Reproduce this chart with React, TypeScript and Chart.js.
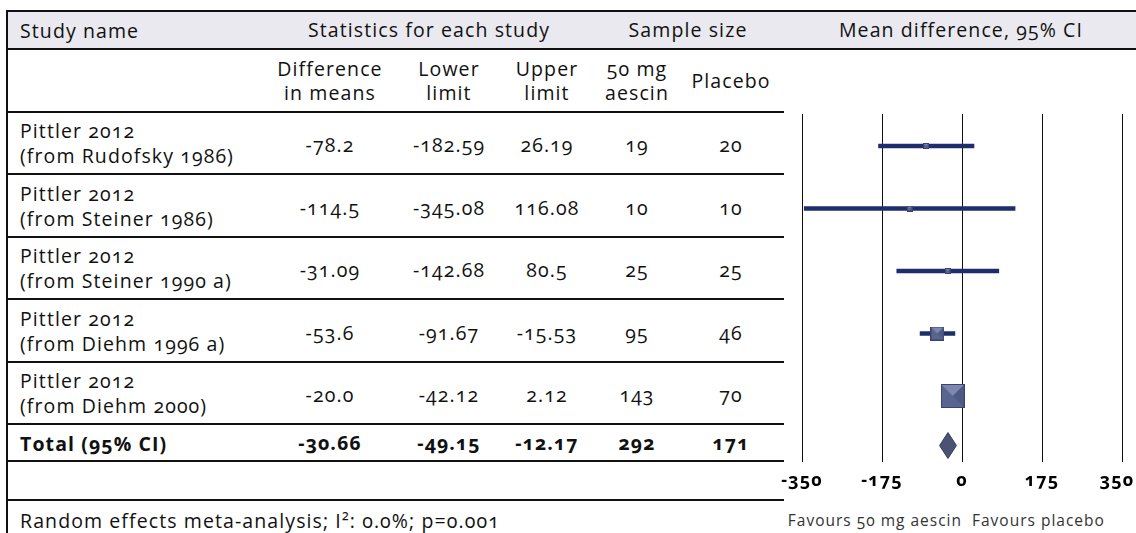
import React, { useEffect, useRef } from "react";
import { Chart, registerables } from "chart.js";

Chart.register(...registerables);

// ---------- data ----------
const studyTitles = ["Pittler 2012", "Pittler 2012", "Pittler 2012", "Pittler 2012", "Pittler 2012"];
const studySources = [
  "(from Rudofsky 1986)",
  "(from Steiner 1986)",
  "(from Steiner 1990 a)",
  "(from Diehm 1996 a)",
  "(from Diehm 2000)",
];
const meanDiff = ["-78.2", "-114.5", "-31.09", "-53.6", "-20.0"];
const lowerLimit = ["-182.59", "-345.08", "-142.68", "-91.67", "-42.12"];
const upperLimit = ["26.19", "116.08", "80.5", "-15.53", "2.12"];
const nAescin = ["19", "10", "25", "95", "143"];
const nPlacebo = ["20", "10", "25", "46", "70"];
const studyWeights = [3.0, 0.6, 2.7, 22.8, 67.4]; // relative weights (%)
const totalLabel = "Total (95% CI)";
const totalStats = ["-30.66", "-49.15", "-12.17", "292", "171"];
const xTicks = [-350, -175, 0, 175, 350];
const footerText = "Random effects meta-analysis; I²: 0.0%; p=0.001";
const favoursLeft = "Favours 50 mg aescin";
const favoursRight = "Favours placebo";

// ---------- layout ----------
const FONT = '"Open Sans", "DejaVu Sans", sans-serif';
const LINE_TOPS = [111, 173, 236, 298, 361, 423, 460, 499];
const TABLE_RIGHT = 784;
const COL_CENTERS = [330, 449, 547, 637, 731];
const PLOT_TOP = 114;
const PLOT_BOTTOM = 462;
const CANVAS_LEFT = 772;
const CANVAS_TOP = 104;
const CANVAS_W = 1136 - CANVAS_LEFT;
const AXIS_H = 40;
const MARK_OFFSET = 3;

function rowCenter(i: number) {
  return (LINE_TOPS[i] + 2 + LINE_TOPS[i + 1]) / 2;
}

function bevelSquare(side: number): HTMLCanvasElement {
  const s = Math.max(4, Math.round(side));
  const c = document.createElement("canvas");
  c.width = s;
  c.height = s;
  const g = c.getContext("2d")!;
  g.fillStyle = "#5a658f";
  g.fillRect(0, 0, s, s);
  g.fillStyle = "#7e88ad";
  g.beginPath();
  g.moveTo(0, 0);
  g.lineTo(s, 0);
  g.lineTo(s / 2, s / 2);
  g.closePath();
  g.fill();
  g.fillStyle = "#4f5a84";
  g.beginPath();
  g.moveTo(s, 0);
  g.lineTo(s, s);
  g.lineTo(s / 2, s / 2);
  g.closePath();
  g.fill();
  g.strokeStyle = "#3a4370";
  g.lineWidth = 1;
  g.strokeRect(0.5, 0.5, s - 1, s - 1);
  return c;
}

function ForestChart() {
  const ref = useRef<HTMLCanvasElement | null>(null);
  useEffect(() => {
    if (!ref.current) return;
    const maxW = Math.max(...studyWeights);
    const squares = studyWeights.map((w) => bevelSquare(Math.max(6, 24 * Math.sqrt(w / maxW))));
    const means = meanDiff.map(Number);
    const lows = lowerLimit.map(Number);
    const highs = upperLimit.map(Number);
    const tMean = Number(totalStats[0]);
    const tLow = Number(totalStats[1]);
    const tHigh = Number(totalStats[2]);
    const ty = rowCenter(5) + MARK_OFFSET;
    const half = 13;
    const lastTick = xTicks[xTicks.length - 1];

    const chart = new Chart(ref.current, {
      type: "scatter",
      data: {
        datasets: [
          {
            type: "scatter",
            order: 0,
            data: means.map((m, i) => ({ x: m, y: rowCenter(i) + MARK_OFFSET })),
            pointStyle: (ctx: any) => squares[ctx.dataIndex] ?? "rect",
            pointRadius: 8,
            backgroundColor: "#5a658f",
            borderColor: "#3a4370",
          } as any,
          {
            type: "line",
            order: 0,
            data: [
              { x: tLow, y: ty },
              { x: tMean, y: ty - half },
              { x: tHigh, y: ty },
              { x: tMean, y: ty + half },
              { x: tLow, y: ty },
            ],
            borderColor: "#363e5e",
            borderWidth: 1,
            backgroundColor: "#4a5373",
            fill: "shape",
            pointRadius: 0,
            tension: 0,
          } as any,
          {
            type: "bar",
            order: 1,
            indexAxis: "y",
            data: lows.map((l, i) => ({ x: [l, highs[i]], y: rowCenter(i) + MARK_OFFSET })),
            backgroundColor: "#1e2d6b",
            borderWidth: 0,
            barThickness: 4,
          } as any,
        ],
      },
      options: {
        animation: false,
        responsive: false,
        maintainAspectRatio: false,
        layout: { padding: { left: 30, right: 14, top: PLOT_TOP - CANVAS_TOP, bottom: 0 } },
        plugins: { legend: { display: false }, tooltip: { enabled: false } },
        scales: {
          x: {
            type: "linear",
            offset: false,
            min: xTicks[0],
            max: lastTick,
            afterBuildTicks: (s: any) => {
              s.ticks = xTicks.map((v) => ({ value: v }));
            },
            afterFit: (s: any) => {
              s.height = AXIS_H;
              s.paddingLeft = 0;
              s.paddingRight = 0;
            },
            ticks: {
              color: "#000",
              font: { family: FONT, size: 18, weight: "bold" },
              padding: 8,
              maxRotation: 0,
              autoSkip: false,
              callback: (v: any) => (v === lastTick ? String(v) + "\u00a0\u2009" : String(v)),
            },
            grid: { color: "#111", lineWidth: 1, drawTicks: false, offset: false },
            border: { display: false },
          },
          y: {
            type: "linear",
            display: false,
            offset: false,
            reverse: true,
            min: PLOT_TOP,
            max: PLOT_BOTTOM,
            grid: { offset: false },
          },
        },
      } as any,
    });
    return () => chart.destroy();
  }, []);
  const h = PLOT_BOTTOM - CANVAS_TOP + AXIS_H;
  return (
    <canvas
      ref={ref}
      width={CANVAS_W}
      height={h}
      style={{ position: "absolute", left: CANVAS_LEFT, top: CANVAS_TOP, width: CANVAS_W, height: h }}
    />
  );
}

const abs = (s: React.CSSProperties): React.CSSProperties => ({ position: "absolute", ...s });

function Centered({ x, y, children, bold }: { x: number; y: number; children: React.ReactNode; bold?: boolean }) {
  return (
    <div
      style={abs({
        left: x,
        top: y,
        transform: "translate(-50%, -50%)",
        textAlign: "center",
        whiteSpace: "nowrap",
        fontWeight: bold ? 700 : 400,
        lineHeight: "24px",
      })}
    >
      {children}
    </div>
  );
}

export default function App() {
  const subHeaders: React.ReactNode[] = [
    <>Difference<br />in means</>,
    <>Lower<br />limit</>,
    <>Upper<br />limit</>,
    <>50 mg<br />aescin</>,
    <>Placebo</>,
  ];
  const subY = (50 + 111) / 2;
  return (
    <div
      style={abs({
        left: 0,
        top: 0,
        width: 1136,
        height: 533,
        overflow: "hidden",
        background: "#fff",
        fontFamily: FONT,
        fontSize: 19.5,
        letterSpacing: "1.1px",
        color: "#111",
        fontVariantNumeric: "oldstyle-nums",
      })}
    >
      {/* header band */}
      <div style={abs({ left: 8, top: 12, width: 1128, height: 36, background: "#e9e9ef" })} />
      <div style={abs({ left: 6, top: 10, width: 1130, height: 2, background: "#111" })} />
      <div style={abs({ left: 6, top: 48, width: 1130, height: 2, background: "#111" })} />
      <div style={abs({ left: 6, top: 10, width: 2, height: 523, background: "#111" })} />
      {LINE_TOPS.map((t, i) => (
        <div key={i} style={abs({ left: 6, top: t, width: TABLE_RIGHT - 6, height: 2, background: "#111" })} />
      ))}
      <div style={abs({ left: 20, top: 30, transform: "translateY(-50%)", whiteSpace: "nowrap" })}>Study name</div>
      <Centered x={429} y={30}>Statistics for each study</Centered>
      <Centered x={688} y={30}>Sample size</Centered>
      <Centered x={961} y={30}>Mean difference, 95% CI</Centered>
      {subHeaders.map((s, i) => (
        <Centered key={i} x={COL_CENTERS[i]} y={subY}>
          {s}
        </Centered>
      ))}
      {studyTitles.map((t, i) => {
        const cy = rowCenter(i);
        const vals = [meanDiff[i], lowerLimit[i], upperLimit[i], nAescin[i], nPlacebo[i]];
        return (
          <React.Fragment key={i}>
            <div style={abs({ left: 20, top: cy, transform: "translateY(-50%)", lineHeight: "25px", whiteSpace: "nowrap" })}>
              {t}
              <br />
              {studySources[i]}
            </div>
            {vals.map((v, j) => (
              <Centered key={j} x={COL_CENTERS[j]} y={cy + 2}>
                {v}
              </Centered>
            ))}
          </React.Fragment>
        );
      })}
      <div
        style={abs({ left: 20, top: rowCenter(5), transform: "translateY(-50%)", fontWeight: 700, whiteSpace: "nowrap" })}
      >
        {totalLabel}
      </div>
      {totalStats.map((v, j) => (
        <Centered key={j} x={COL_CENTERS[j]} y={rowCenter(5)} bold>
          {v}
        </Centered>
      ))}
      <div style={abs({ left: 20, top: 520, transform: "translateY(-50%)", whiteSpace: "nowrap" })}>{footerText}</div>
      <div
        style={abs({
          right: 1136 - 962,
          top: 520,
          transform: "translateY(-50%)",
          fontSize: 15.5,
          letterSpacing: "1px",
          color: "#333",
          whiteSpace: "nowrap",
        })}
      >
        {favoursLeft}
      </div>
      <div
        style={abs({
          left: 972,
          top: 520,
          transform: "translateY(-50%)",
          fontSize: 15.5,
          letterSpacing: "1px",
          color: "#333",
          whiteSpace: "nowrap",
        })}
      >
        {favoursRight}
      </div>
      <ForestChart />
    </div>
  );
}
